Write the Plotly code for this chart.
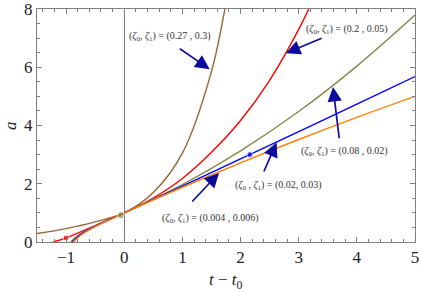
import plotly.graph_objects as go

# ---- data ----
brown_t = [-1.5, -1.0, -0.5, 0.0, 0.5, 1.0, 1.5, 1.75, 1.85]
brown_a = [0.29, 0.46, 0.69, 1.0, 1.70, 3.05, 5.85, 8.2, 9.3]

red_t = [-1.22, -1.0, -0.5, 0.0, 0.5, 1.0, 1.5, 2.0, 2.5, 3.0, 3.3]
red_a = [0.0, 0.14, 0.565, 1.0, 1.51, 2.18, 3.08, 4.17, 5.55, 7.3, 8.55]

olive_t = [-0.92, -0.85, -0.7, -0.5, 0.0, 1.0, 2.0, 3.0, 4.0, 5.0]
olive_a = [0.0, 0.14, 0.34, 0.55, 1.0, 1.97, 3.13, 4.48, 6.04, 7.79]

blue_t = [-0.90, -0.83, -0.7, -0.5, 0.0, 1.0, 2.0, 3.0, 4.0, 5.0]
blue_a = [0.0, 0.13, 0.32, 0.54, 1.0, 1.92, 2.85, 3.79, 4.73, 5.68]

orange_t = [-0.88, -0.81, -0.7, -0.5, 0.0, 1.0, 2.0, 3.0, 4.0, 5.0]
orange_a = [0.0, 0.13, 0.30, 0.53, 1.0, 1.88, 2.72, 3.52, 4.28, 5.0]

dot_t = [-1.0, 2.16, -0.06]
dot_a = [0.14, 3.0, 0.92]

labels = ["(0.27 , 0.3)", "(0.2 , 0.05)", "(0.08 , 0.02)", "(0.02, 0.03)", "(0.004 , 0.006)"]

x_ticks = [-1, 0, 1, 2, 3, 4, 5]
y_ticks = [0, 2, 4, 6, 8]

# ---- styling ----
BROWN = "#996633"
RED = "#ff0000"
OLIVE = "#87874a"
BLUE = "#0000ff"
ORANGE = "#ff8000"
ARROW = "#0c0c9c"
FRAME = "#7f7f7f"
FONT = "Liberation Serif"

fig = go.Figure()
for t, a, c in [(brown_t, brown_a, BROWN), (red_t, red_a, RED), (olive_t, olive_a, OLIVE),
                (blue_t, blue_a, BLUE), (orange_t, orange_a, ORANGE)]:
    fig.add_trace(go.Scatter(x=t, y=a, mode="lines", line=dict(color=c, width=1.4, shape="spline"),
                             showlegend=False, hoverinfo="skip"))

fig.add_trace(go.Scatter(x=dot_t, y=dot_a, mode="markers",
                         marker=dict(color=[RED, BLUE, OLIVE], size=[6, 6, 7]),
                         showlegend=False, hoverinfo="skip"))

# label text positions (data coords) and arrow tail/tip
text_pos = [(0.79, 7.04), (3.83, 7.28), (3.79, 3.11), (2.66, 1.95), (1.485, 0.80)]
arrows = [((0.93, 6.67), (1.47, 5.93)),
          ((3.42, 7.02), (2.78, 6.48)),
          ((3.70, 3.51), (3.59, 5.32)),
          ((2.39, 2.37), (2.62, 3.42)),
          ((1.145, 1.34), (1.63, 2.37))]
seps = [", ", ", ", ", ", " , ", ", "]

anns = []
for lab, (tx, ty), sep in zip(labels, text_pos, seps):
    anns.append(dict(x=tx, y=ty, xref="x", yref="y", showarrow=False,
                     xanchor="center", yanchor="middle",
                     text="(<i>ζ</i><sub>0</sub>" + sep + "<i>ζ</i><sub>1</sub>) = " + lab,
                     font=dict(family=FONT, size=10, color="#333333")))
for (tail, tip) in arrows:
    anns.append(dict(x=tip[0], y=tip[1], ax=tail[0], ay=tail[1], xref="x", yref="y",
                     axref="x", ayref="y", text="", showarrow=True, arrowhead=2,
                     arrowsize=1.7, arrowwidth=1.7, arrowcolor=ARROW, standoff=0))
# axis titles
anns.append(dict(x=-0.07, y=0.5, xref="paper", yref="paper", showarrow=False, textangle=-90,
                 xanchor="center", yanchor="middle",
                 text="<i>a</i>", font=dict(family=FONT, size=17, color="#222222")))
anns.append(dict(x=0.5, y=-0.167, xref="paper", yref="paper", showarrow=False,
                 xanchor="center", yanchor="middle",
                 text="<i>t</i> − <i>t</i><sub>0</sub>", font=dict(family=FONT, size=17, color="#222222")))

fig.update_layout(
    width=421, height=293,
    margin=dict(l=37, r=6, t=9, b=50.5, autoexpand=False),
    plot_bgcolor="white", paper_bgcolor="white",
    annotations=anns,
    font=dict(family=FONT, size=17, color="#222222"),
)
fig.update_xaxes(range=[-1.5, 5], tickvals=x_ticks, ticktext=[str(v).replace("-", "−") for v in x_ticks],
                 automargin=False, ticklabeloverflow="allow",
                 ticks="inside", ticklen=5, tickcolor=FRAME, showline=True, linecolor=FRAME, linewidth=1,
                 mirror="allticks", showgrid=False, zeroline=True, zerolinecolor="#777777", zerolinewidth=1.2,
                 minor=dict(dtick=0.2, tick0=0, ticks="inside", ticklen=3, tickcolor=FRAME, showgrid=False))
fig.update_yaxes(range=[0, 8], tickvals=y_ticks, ticks="inside", ticklen=5, tickcolor=FRAME,
                 automargin=False, ticklabeloverflow="allow",
                 showline=True, linecolor=FRAME, linewidth=1, mirror="allticks", showgrid=False,
                 zeroline=False,
                 minor=dict(dtick=0.5, tick0=0, ticks="inside", ticklen=3, tickcolor=FRAME, showgrid=False))

fig.write_html("out.html", config={"displayModeBar": False, "staticPlot": True},
               post_script="document.body.style.margin='0';document.body.style.padding='0';")
